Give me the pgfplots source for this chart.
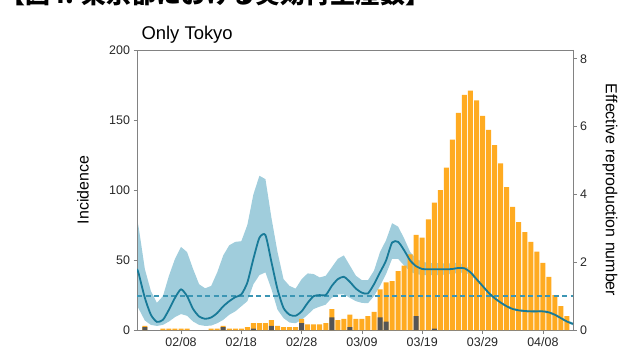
\documentclass[border=0pt]{standalone}
\usepackage{fontspec}
\setmainfont{Liberation Sans}
\newfontfamily\cjk{Noto Sans CJK JP}
\usepackage{pgfplots}
\pgfplotsset{compat=1.18}
\usepgfplotslibrary{fillbetween}

\definecolor{barorange}{RGB}{255,171,33}
\definecolor{bargray}{RGB}{85,85,85}
\definecolor{bandblue}{RGB}{82,164,191}
\definecolor{lineteal}{RGB}{24,122,152}
\definecolor{dashteal}{RGB}{60,150,180}
\definecolor{framegray}{RGB}{130,130,130}

\pgfplotsset{
  common/.style={
    scale only axis, width=436bp, height=280bp,
    at={(137bp,30bp)}, anchor=south west,
    xmin=-7.3, xmax=65,
    axis line style={framegray, line width=0.7bp},
    tick style={framegray, line width=0.7bp},
    tick align=outside, major tick length=3.5bp,
    ticklabel style={font=\fontsize{12.5}{12.5}\selectfont, text=black!85},
    /pgf/number format/assume math mode=true,
  }
}

\begin{document}
\begin{tikzpicture}[x=1bp,y=1bp]
\path (0,0) rectangle (640,360);
\begin{scope}
\clip (0,0) rectangle (640,360);
\node[overlay, anchor=base west, inner sep=0pt, font=\cjk\bfseries\fontsize{25}{25}\selectfont] at (0,356.5) {【図4. 東京都における実効再生産数】};
\end{scope}

\begin{axis}[common,
  ymin=0, ymax=200, ytick={0,50,100,150,200},
  tick pos=left,
  xtick={0,10,20,30,40,50,60},
  xticklabels={02/08,02/18,02/28,03/09,03/19,03/29,04/08},
  title={Only Tokyo},
  title style={at={(axis description cs:0,1)}, anchor=base west, yshift=5bp, xshift=1bp, font=\fontsize{18.5}{18.5}\selectfont},
  ylabel={Incidence},
  ylabel style={at={(axis description cs:-0.1239,0.5)}, anchor=center, font=\fontsize{16}{16}\selectfont},
]
\addplot[ybar, bar width=5bp, bar shift=0pt, fill=barorange, draw=none] coordinates {
(-6,3) (-3,1) (-2,1) (-1,1) (0,1) (1,1) (5,1) (6,1) (7,3) (8,1) (9,1) (10,1)
(11,2) (12,5) (13,5) (14,5) (15,7) (16,3) (17,2) (18,2) (19,2) (20,8)
(21,4) (22,4) (23,4) (24,5) (25,15) (26,7) (27,8) (28,11) (29,8) (30,8)
(31,10) (32,13) (33,29) (34,34) (35,35) (36,42) (37,46) (38,54) (39,68) (40,66)
(41,79) (42,91) (43,100) (44,116) (45,136) (46,155) (47,168) (48,171) (49,164) (50,153)
(51,143) (52,132) (53,119) (54,102) (55,88) (56,77) (57,70) (58,63) (59,56) (60,48)
(61,38) (62,25) (63,17) (64,10)
};
\addplot[ybar, bar width=5bp, bar shift=0pt, fill=bargray, draw=none] coordinates {
(-6,2) (7,2) (12,1) (15,3) (20,5) (25,9) (28,2) (33,9) (34,6) (39,10) (42,1)
};
\end{axis}

\begin{axis}[common,
  ymin=0, ymax=8.26, ytick={0,2,4,6,8},
  hide x axis,
  ytick pos=right, yticklabel pos=right,
  ylabel={Effective reproduction number},
  ylabel style={at={(axis description cs:1.0849,0.5)}, anchor=center, rotate=180, font=\fontsize{16}{16}\selectfont},
]
\addplot[name path=up, draw=none] coordinates {
(-7.3,3.3) (-7,3.0) (-6,1.8) (-5,1.15) (-4,0.8) (-3,1.0) (-2,1.6) (-1,2.1) (0,2.45) (1,2.3) (2,1.8) (3,1.35) (4,1.23) (5,1.3) (6,1.7) (7,2.2) (8,2.5) (9,2.6) (10,2.62) (11,3.1) (12,4.0) (13,4.55) (14,4.45) (15,3.3) (16,2.3) (17,1.5) (18,1.3) (19,1.22) (20,1.5) (21,1.67) (22,1.65) (23,1.55) (24,1.6) (25,1.85) (26,2.1) (27,2.2) (28,1.9) (29,1.6) (30,1.47) (31,1.47) (32,1.75) (33,2.3) (34,2.65) (35,3.15) (36,3.05) (37,2.7) (38,2.3) (39,2.1) (40,2.01) (41,1.98) (42,1.97) (43,1.97) (44,1.96) (45,1.97) (46,1.99) (47,1.92) (48,1.78) (49,1.55) (50,1.34) (51,1.14) (52,0.98) (53,0.85) (54,0.74) (55,0.66) (56,0.62) (57,0.6) (58,0.59) (59,0.59) (60,0.59) (61,0.56) (62,0.49) (63,0.39) (64,0.29) (65,0.22)
};
\addplot[name path=lo, draw=none] coordinates {
(-7.3,0.72) (-7,0.62) (-6,0.28) (-5,0.15) (-4,0.12) (-3,0.15) (-2,0.25) (-1,0.38) (0,0.47) (1,0.42) (2,0.25) (3,0.15) (4,0.12) (5,0.13) (6,0.2) (7,0.3) (8,0.45) (9,0.55) (10,0.7) (11,0.85) (12,1.35) (13,1.62) (14,1.7) (15,1.2) (16,0.6) (17,0.35) (18,0.22) (19,0.2) (20,0.3) (21,0.45) (22,0.62) (23,0.69) (24,0.75) (25,0.95) (26,1.05) (27,1.05) (28,0.95) (29,0.85) (30,0.8) (31,0.79) (32,1.0) (33,1.3) (34,1.65) (35,2.1) (36,2.1) (37,1.9) (38,1.72) (39,1.65) (40,1.62) (41,1.62) (42,1.62) (43,1.62) (44,1.64) (45,1.66) (46,1.68) (47,1.7) (48,1.62) (49,1.45) (50,1.26) (51,1.06) (52,0.9) (53,0.77) (54,0.66) (55,0.58) (56,0.54) (57,0.52) (58,0.51) (59,0.51) (60,0.51) (61,0.48) (62,0.41) (63,0.31) (64,0.21) (65,0.14)
};
\addplot[bandblue, fill opacity=0.55] fill between[of=up and lo];
\addplot[dashteal, line width=1.3bp, dash pattern=on 5bp off 3.5bp] coordinates {(-7.3,1) (65,1)};
\addplot[lineteal, line width=1.8bp, smooth, tension=0.4] coordinates {
(-7.3,1.8) (-7,1.65) (-6,0.95) (-5,0.45) (-4,0.24) (-3,0.3) (-2,0.6) (-1,0.95) (0,1.2) (1,1.0) (2,0.62) (3,0.4) (4,0.33) (5,0.37) (6,0.5) (7,0.7) (8,0.85) (9,0.97) (10,1.05) (11,1.4) (12,2.1) (13,2.72) (14,2.8) (15,2.0) (16,1.2) (17,0.65) (18,0.45) (19,0.42) (20,0.55) (21,0.8) (22,1.0) (23,1.03) (24,1.03) (25,1.3) (26,1.5) (27,1.57) (28,1.42) (29,1.22) (30,1.1) (31,1.08) (32,1.35) (33,1.7) (34,2.05) (35,2.58) (36,2.6) (37,2.35) (38,2.05) (39,1.88) (40,1.8) (41,1.79) (42,1.79) (43,1.79) (44,1.79) (45,1.8) (46,1.83) (47,1.82) (48,1.7) (49,1.5) (50,1.3) (51,1.1) (52,0.94) (53,0.81) (54,0.7) (55,0.62) (56,0.58) (57,0.56) (58,0.55) (59,0.55) (60,0.55) (61,0.52) (62,0.45) (63,0.35) (64,0.25) (65,0.18)
};
\end{axis}
\end{tikzpicture}
\end{document}
